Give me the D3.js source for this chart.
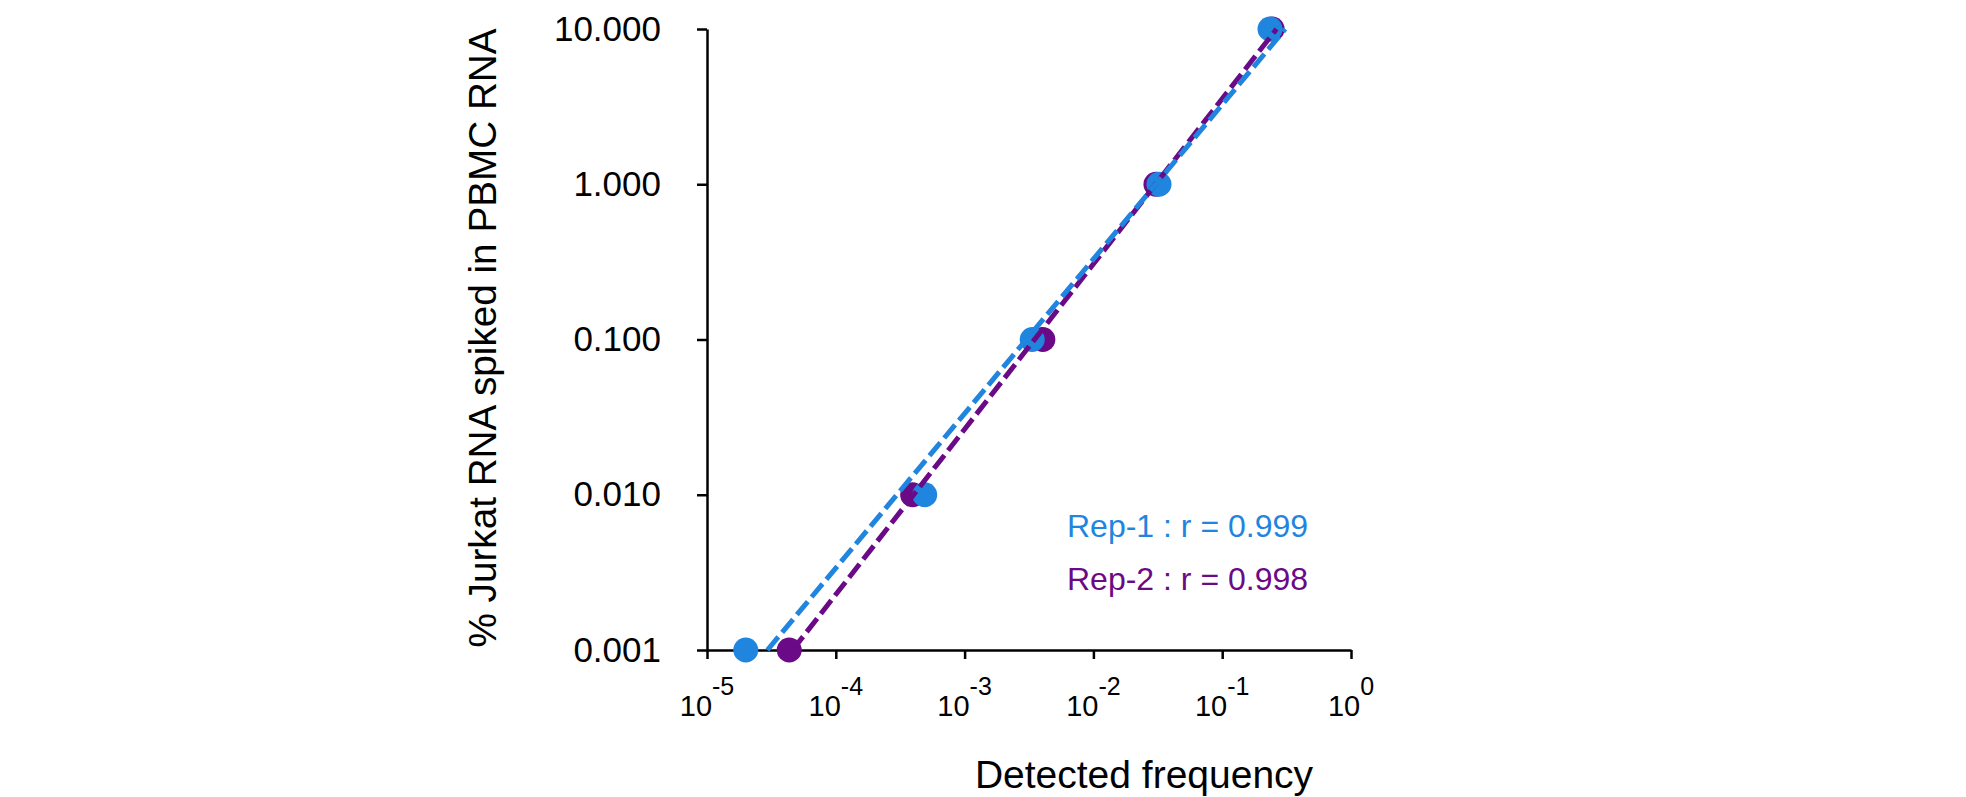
<!DOCTYPE html>
<html>
<head>
<meta charset="utf-8">
<script src="https://cdn.jsdelivr.net/npm/d3@7"></script>
<style>
  body { margin: 0; background: #fff; }
  text { font-family: "Liberation Sans", Arial, sans-serif; }
</style>
</head>
<body>
<div id="scatter"></div>
<script>
// spiked-in percentages (y) and detected frequencies (x) per replicate
const spikedPct = [0.001, 0.01, 0.1, 1, 10];
const rep1Freq = [2.0e-5, 4.9e-4, 3.35e-3, 0.0323, 0.235];
const rep2Freq = [4.35e-5, 3.95e-4, 4.05e-3, 0.0306, 0.244];
const xTickExps = [-5, -4, -3, -2, -1, 0];
const yTicks = [0.001, 0.01, 0.1, 1, 10];
const legendLabels = ["Rep-1 : r = 0.999", "Rep-2 : r = 0.998"];

const blue = "#1f85de";
const purple = "#6a0a86";

const width = 1966;
const height = 797;

const svg = d3.select("#scatter")
    .append("svg")
    .attr("width", width)
    .attr("height", height);

const xScale = d3.scaleLog()
    .domain([1e-5, 1])
    .range([707, 1351]);
const yScale = d3.scaleLog()
    .domain([0.001, 10])
    .range([650, 29]);

// axes
const leftAxis = d3.axisLeft(yScale)
    .tickValues(yTicks)
    .tickFormat(d3.format(".3f"))
    .tickSize(10)
    .tickSizeOuter(0)
    .tickPadding(36);
const bottomAxis = d3.axisBottom(xScale)
    .tickValues(xTickExps.map(e => Math.pow(10, e)))
    .tickFormat("")
    .tickSize(9)
    .tickSizeOuter(0);

const yAxisG = svg.append("g")
    .attr("transform", `translate(${xScale(1e-5)},0)`)
    .call(leftAxis);
yAxisG.selectAll("text")
    .attr("font-size", 35)
    .attr("fill", "#000")
    .attr("font-family", "'Liberation Sans', Arial, sans-serif");

const xAxisG = svg.append("g")
    .attr("transform", `translate(0,${yScale(0.001)})`)
    .call(bottomAxis);

svg.selectAll(".domain, .tick line")
    .attr("stroke", "#000")
    .attr("stroke-width", 2.5);

// x tick labels as 10 with superscript exponent
const xLabels = svg.append("g")
    .selectAll("text")
    .data(xTickExps)
    .join("text")
        .attr("x", d => xScale(Math.pow(10, d)))
        .attr("y", 716)
        .attr("text-anchor", "middle")
        .attr("fill", "#000");
xLabels.append("tspan")
    .attr("font-size", 29)
    .text("10");
xLabels.append("tspan")
    .attr("font-size", 25)
    .attr("dy", -21)
    .text(d => d);

// axis titles
svg.append("text")
    .attr("x", 1144)
    .attr("y", 788)
    .attr("text-anchor", "middle")
    .attr("font-size", 39)
    .attr("fill", "#000")
    .text("Detected frequency");

svg.append("text")
    .attr("transform", "translate(496,338) rotate(-90)")
    .attr("text-anchor", "middle")
    .attr("font-size", 38.7)
    .attr("fill", "#000")
    .text("% Jurkat RNA spiked in PBMC RNA");

// power fit (linear in log-log space), drawn across the y range
const fitLine = (xs) => {
    const lx = xs.map(Math.log10);
    const ly = spikedPct.map(Math.log10);
    const mx = d3.mean(lx), my = d3.mean(ly);
    const slope = d3.sum(lx, (v, i) => (v - mx) * (ly[i] - my)) / d3.sum(lx, v => (v - mx) ** 2);
    const icpt = my - slope * mx;
    return yScale.domain().map(y => [Math.pow(10, (Math.log10(y) - icpt) / slope), y]);
};

const line = d3.line()
    .x(d => xScale(d[0]))
    .y(d => yScale(d[1]));

const series = [
    { freq: rep2Freq, color: purple },
    { freq: rep1Freq, color: blue }
];

series.forEach(s => {
    svg.append("g")
        .selectAll("circle")
        .data(s.freq)
        .join("circle")
            .attr("cx", d => xScale(d))
            .attr("cy", (d, i) => yScale(spikedPct[i]))
            .attr("r", 12.5)
            .attr("fill", s.color);
});

series.forEach(s => {
    svg.append("path")
        .attr("d", line(fitLine(s.freq)))
        .attr("fill", "none")
        .attr("stroke", s.color)
        .attr("stroke-width", 5)
        .attr("stroke-dasharray", "17,6");
});

// legend
svg.append("g")
    .selectAll("text")
    .data(legendLabels)
    .join("text")
        .attr("x", 1067)
        .attr("y", (d, i) => 537 + i * 53)
        .attr("font-size", 32)
        .attr("fill", (d, i) => i === 0 ? blue : purple)
        .text(d => d);
</script>
</body>
</html>
